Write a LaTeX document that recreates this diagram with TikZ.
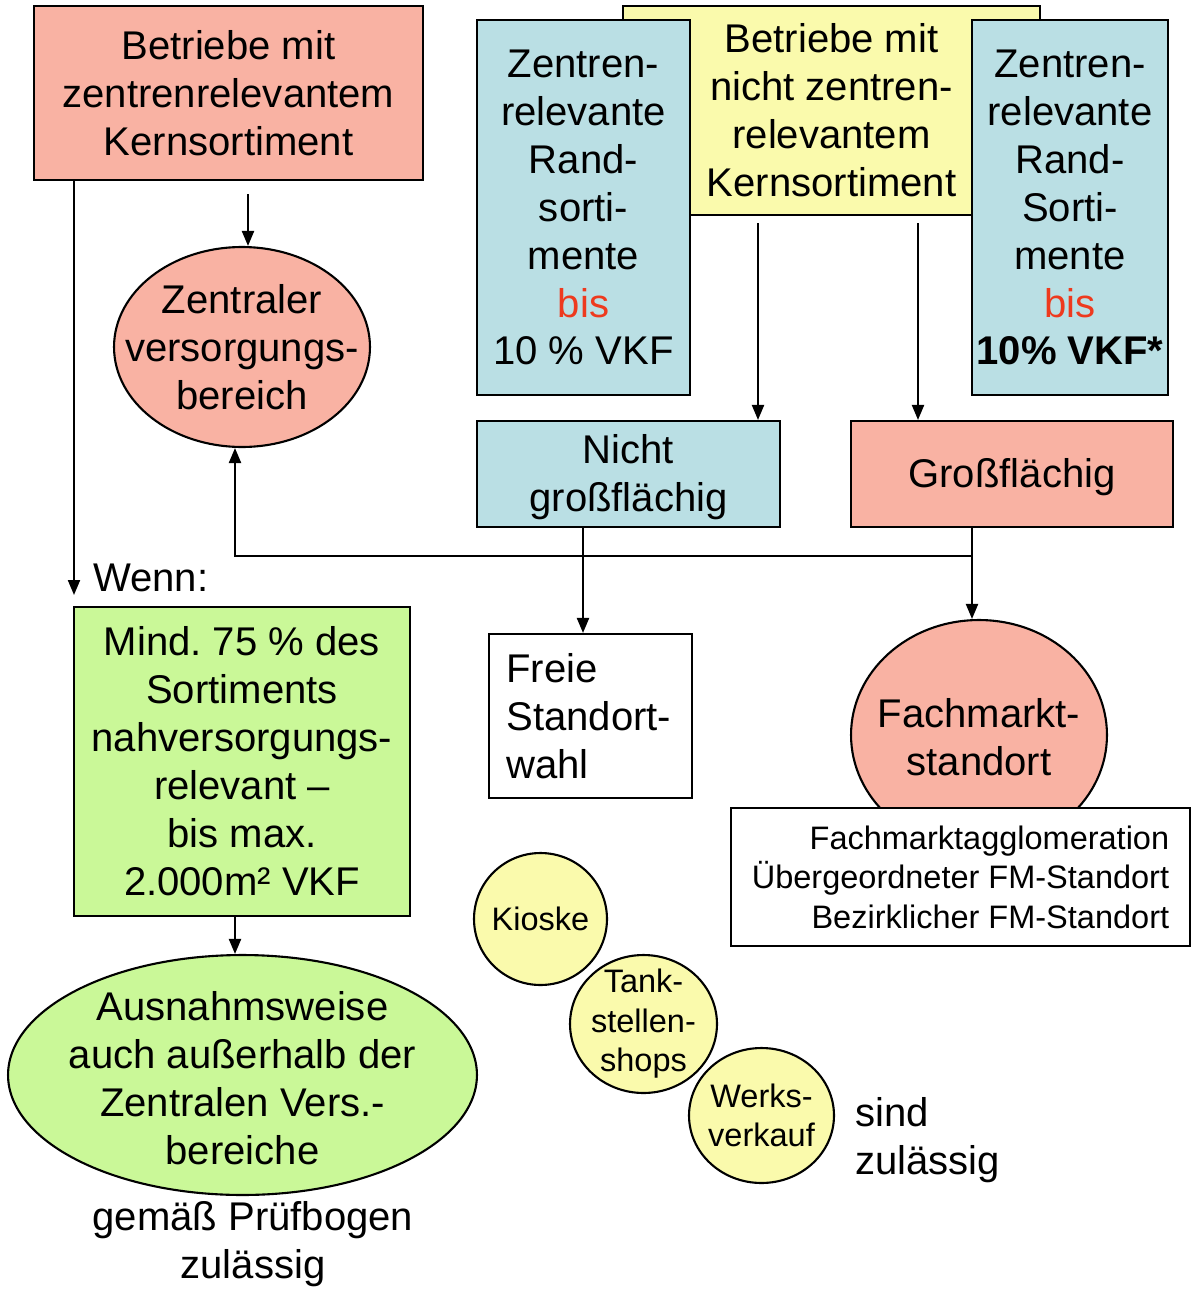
\documentclass[tikz,border=0pt]{standalone}
\usepackage{fontspec}
\setmainfont{Liberation Sans}
\usetikzlibrary{shapes.geometric,arrows.meta,calc}
\definecolor{rosa}{RGB}{249,178,163}
\definecolor{azzurro}{RGB}{186,223,228}
\definecolor{giallo}{RGB}{250,250,172}
\definecolor{verde}{RGB}{202,248,152}
\definecolor{rosso}{RGB}{238,58,30}
\newcommand{\grande}{\fontsize{22.8}{27.3}\selectfont}
\newcommand{\piccolo}{\fontsize{18.5}{22.5}\selectfont}
\frenchspacing
\tikzset{
  box/.style={draw, line width=1.2pt, rectangle, inner sep=1pt, align=center, font=\grande},
  ell/.style={draw, line width=1.2pt, ellipse, inner sep=0pt},
  testo/.style={align=center, font=\grande, inner sep=0pt},
  freccia/.style={-{Triangle[length=0.3cm,width=0.24cm]}, line width=1.2pt},
}
\begin{document}
\begin{tikzpicture}[x=0.02cm,y=-0.02cm]
\useasboundingbox (0,0) rectangle (1192,1291);
% Riquadri in alto
\node[box, fill=rosa, minimum width=7.78cm, minimum height=3.48cm] (A) at (228.5,93) {Betriebe mit\\zentrenrelevantem\\Kernsortiment};
\node[box, fill=giallo, minimum width=8.34cm, minimum height=4.18cm] (Y) at (831.5,110.5) {Betriebe mit\\nicht zentren-\\relevantem\\Kernsortiment};
\node[box, fill=azzurro, inner sep=0pt, minimum width=4.26cm, minimum height=7.5cm] (B1) at (583.5,207.5) {Zentren-\\relevante\\Rand-\\sorti-\\mente\\\textcolor{rosso}{bis}\\10 \% VKF};
\node[box, fill=azzurro, inner sep=0pt, minimum width=3.92cm, minimum height=7.5cm] (B2) at (1070,207.5) {Zentren-\\relevante\\Rand-\\Sorti-\\mente\\\textcolor{rosso}{bis}\\\textbf{10\% VKF*}};
\node[box, fill=azzurro, minimum width=6.06cm, minimum height=2.12cm] (N) at (628.5,474) {};
\node[testo] (Nt) at (628.5,477) {Nicht\\großflächig};
\node[box, fill=rosa, minimum width=6.44cm, minimum height=2.12cm] (Gr) at (1012,474) {};
\node[testo] (Grt) at (1012,477) {Großflächig};
% Ellissi
\node[ell, fill=rosa, minimum width=5.12cm, minimum height=4cm] (Z) at (242,347) {};
\node[testo] (Zt) at (Z) {Zentraler\\versorgungs-\\bereich};
\node[ell, fill=rosa, minimum width=5.12cm, minimum height=4.6cm] (FM) at (979,735) {};
\node[testo] (FMt) at (979,737) {Fachmarkt-\\standort};
% Riquadri in basso
\node[box, fill=verde, minimum width=6.72cm, minimum height=6.18cm] (G) at (242,761.5) {Mind. 75 \% des\\Sortiments\\nahversorgungs-\\relevant –\\bis max.\\2.000m² VKF};
\node[box, fill=white, align=left, text width=3.36cm, inner xsep=0.35cm, minimum height=3.28cm] (F) at (590.5,716) {Freie\\Standort-\\wahl};
\node[box, fill=white, font=\piccolo, align=right, minimum width=9.18cm, minimum height=2.76cm] (L) at (960.5,877) {Fachmarktagglomeration\\Übergeordneter FM-Standort\\Bezirklicher FM-Standort};
\node[ell, fill=verde, minimum width=9.38cm, minimum height=4.8cm] (H) at (242.5,1075) {};
\node[testo] (Ht) at (242.5,1078) {Ausnahmsweise\\auch außerhalb der\\Zentralen Vers.-\\bereiche};
% Cerchi piccoli
\node[ell, fill=giallo, minimum width=2.66cm, minimum height=2.64cm] (K) at (540.5,919) {};
\node[testo, font=\piccolo] (Kt) at (K) {Kioske};
\node[ell, fill=giallo, minimum width=2.94cm, minimum height=2.76cm] (T) at (643.5,1024) {};
\node[testo, font=\piccolo] (Tt) at (T) {Tank-\\stellen-\\shops};
\node[ell, fill=giallo, minimum width=2.9cm, minimum height=2.7cm] (W) at (761.5,1115.5) {};
\node[testo, font=\piccolo] (Wt) at (W) {Werks-\\verkauf};
% Testi liberi
\node[testo, anchor=west] (Wenn) at (93,578) {Wenn:};
\node[testo, anchor=west, align=left] (Sz) at (855,1140.5) {sind\\zulässig};
\node[testo] (Pb) at (253,1244) {gemäß Prüfbogen\\zulässig};
% Frecce
\coordinate (wennTip) at (74,595);
\coordinate (zIn) at ($(Z.north)+(6,0)$);
\coordinate (nIn) at ($(N.north)+(129.5,0)$);
\coordinate (gIn) at ($(Gr.north)+(-94,0)$);
\coordinate (fIn) at ($(F.north)+(-7.5,0)$);
\coordinate (fmIn) at ($(FM.north)+(-7,0)$);
\coordinate (hIn) at ($(H.north)+(-7.5,0)$);
\coordinate (nodo) at ($(Gr.south)+(-40,28)$);
\draw[freccia] (A.south -| wennTip) -- (wennTip);
\draw[freccia] ([yshift=-0.26cm]A.south -| zIn) -- (zIn);
\draw[freccia] ([yshift=-0.14cm]Y.south -| nIn) -- (nIn);
\draw[freccia] ([yshift=-0.14cm]Y.south -| gIn) -- (gIn);
\draw[freccia] (N.south -| fIn) -- (fIn);
\draw[freccia] (Gr.south -| fmIn) -- (fmIn);
\draw[freccia] (nodo) -| ($(Z.south)+(-7,0)$);
\draw[freccia] (G.south -| hIn) -- (hIn);
\end{tikzpicture}
\end{document}
